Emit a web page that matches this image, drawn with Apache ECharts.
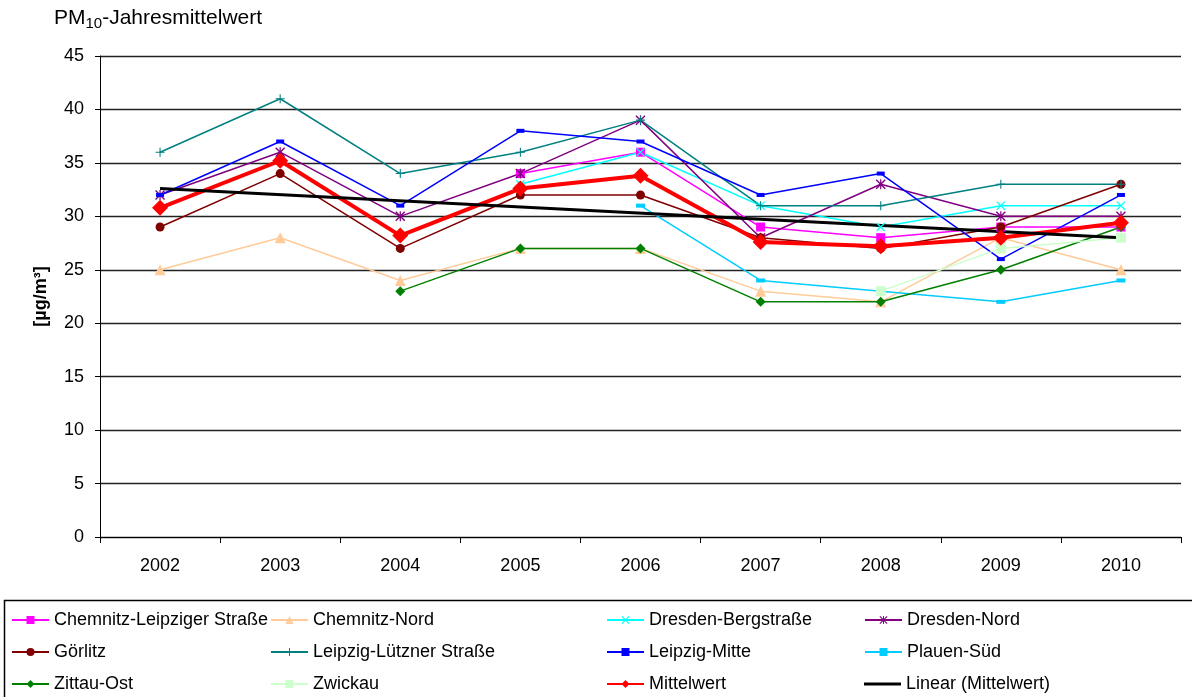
<!DOCTYPE html>
<html>
<head>
<meta charset="utf-8">
<script src="https://cdn.jsdelivr.net/npm/echarts@6/dist/echarts.min.js"></script>
<style>
  html, body { margin: 0; padding: 0; background: #fff; }
  #chart { width: 1192px; height: 697px; }
</style>
</head>
<body>
<div id="chart"></div>
<script>
// PM10 annual means (µg/m³) per station, 2002–2010
const years = ['2002', '2003', '2004', '2005', '2006', '2007', '2008', '2009', '2010'];
const chemnitzLeipziger = [null, null, null, 34, 36, 29, 28, 29, 29];
const chemnitzNord      = [25, 28, 24, 27, 27, 23, 22, 28, 25];
const dresdenBerg       = [null, null, null, 33, 36, 31, 29, 31, 31];
const dresdenNord       = [32, 36, 30, 34, 39, 28, 33, 30, 30];
const goerlitz          = [29, 34, 27, 32, 32, 28, 27, 29, 33];
const leipzigLuetzner   = [36, 41, 34, 36, 39, 31, 31, 33, 33];
const leipzigMitte      = [32, 37, 31, 38, 37, 32, 34, 26, 32];
const plauenSued        = [null, null, null, null, 31, 24, 23, 22, 24];
const zittauOst         = [null, null, 23, 27, 27, 22, 22, 25, 29];
const zwickau           = [null, null, null, null, null, null, 23, 27, 28];
const mittelwert        = [30.8, 35.2, 28.2, 32.6, 33.8, 27.6, 27.2, 28.0, 29.4];
// linear trend of the mean: values at first and last year
const trendYears  = ['2002', '2010'];
const trendValues = [32.6, 28.0];

// legend grid: rows of four entries
const legendRows = [
  ['Chemnitz-Leipziger Straße', 'Chemnitz-Nord', 'Dresden-Bergstraße', 'Dresden-Nord'],
  ['Görlitz', 'Leipzig-Lützner Straße', 'Leipzig-Mitte', 'Plauen-Süd'],
  ['Zittau-Ost', 'Zwickau', 'Mittelwert', 'Linear (Mittelwert)']
];

const FONT = '"Liberation Sans", Arial, sans-serif';

const SYM_X = 'path://M0,1 L1,0 L5,4 L9,0 L10,1 L6,5 L10,9 L9,10 L5,6 L1,10 L0,9 L4,5 Z';
const SYM_PLUS = 'path://M4.4,0 H5.6 V4.4 H10 V5.6 H5.6 V10 H4.4 V5.6 H0 V4.4 H4.4 Z';
const SYM_STAR = 'path://M0,1 L1,0 L5,4 L9,0 L10,1 L6,5 L10,9 L9,10 L5,6 L1,10 L0,9 L4,5 Z M4.4,0 H5.6 V10 H4.4 Z';

function station(name, data, color, symbol, size) {
  return {
    name: name,
    type: 'line',
    data: data,
    symbol: symbol,
    symbolSize: size,
    showSymbol: true,
    lineStyle: { color: color, width: 1.5 },
    itemStyle: { color: color, borderWidth: 0 },
    emphasis: { disabled: true }
  };
}

const series = [
  station('Chemnitz-Leipziger Straße', chemnitzLeipziger, '#FF00FF', 'rect', 9),
  station('Chemnitz-Nord', chemnitzNord, '#FFCC99', 'triangle', 11),
  station('Dresden-Bergstraße', dresdenBerg, '#00FFFF', SYM_X, 9),
  station('Dresden-Nord', dresdenNord, '#800080', SYM_STAR, 10),
  station('Görlitz', goerlitz, '#800000', 'circle', 9),
  station('Leipzig-Lützner Straße', leipzigLuetzner, '#008080', SYM_PLUS, 9),
  station('Leipzig-Mitte', leipzigMitte, '#0000FF', 'rect', [8, 4]),
  station('Plauen-Süd', plauenSued, '#00CCFF', 'rect', [9, 4]),
  station('Zittau-Ost', zittauOst, '#008000', 'diamond', 10),
  station('Zwickau', zwickau, '#CCFFCC', 'rect', 10),
  {
    name: 'Mittelwert',
    type: 'line',
    data: mittelwert,
    symbol: 'diamond',
    symbolSize: 16,
    lineStyle: { color: '#FF0000', width: 4 },
    itemStyle: { color: '#FF0000' },
    emphasis: { disabled: true }
  },
  {
    name: 'Linear (Mittelwert)',
    type: 'line',
    data: trendYears.map((y, i) => [y, trendValues[i]]),
    symbol: 'none',
    lineStyle: { color: '#000000', width: 3 },
    itemStyle: { color: '#000000' },
    emphasis: { disabled: true }
  }
];

// one legend component per entry so the four columns line up exactly
const colLeft = [11, 270, 606, 864];
const rowCenter = [620, 652, 684];
const legends = [];
legendRows.forEach((row, r) => {
  row.forEach((name, c) => {
    const isTrend = name === 'Linear (Mittelwert)';
    const ih = isTrend ? 3 : 10;
    legends.push({
      orient: 'horizontal',
      left: colLeft[c],
      top: rowCenter[r] - 11,
      padding: 0,
      itemWidth: 37,
      itemHeight: ih,
      selectedMode: false,
      textStyle: { fontFamily: FONT, fontSize: 18, color: '#000', lineHeight: 22 },
      data: isTrend ? [{ name: name, icon: 'rect' }] : [name]
    });
  });
});

const chart = echarts.init(document.getElementById('chart'), null, { renderer: 'canvas' });
chart.setOption({
  animation: false,
  backgroundColor: '#ffffff',
  textStyle: { fontFamily: FONT },
  grid: { left: 100, right: 11, top: 56, bottom: 160, containLabel: false },
  xAxis: {
    type: 'category',
    data: years,
    boundaryGap: true,
    axisLine: { lineStyle: { color: '#000', width: 1 } },
    axisTick: { show: true, length: 6, lineStyle: { color: '#000' } },
    axisLabel: { fontFamily: FONT, fontSize: 18, color: '#000', margin: 20 },
    splitLine: { show: false }
  },
  yAxis: {
    type: 'value',
    min: 0,
    max: 45,
    interval: 5,
    name: '[µg/m³]',
    nameLocation: 'middle',
    nameGap: 50,
    nameRotate: 90,
    nameTextStyle: { fontFamily: FONT, fontSize: 18, fontWeight: 'bold', color: '#000' },
    axisLine: { show: true, lineStyle: { color: '#000', width: 1 } },
    axisTick: { show: true, length: 5, lineStyle: { color: '#000' } },
    axisLabel: { fontFamily: FONT, fontSize: 18, color: '#000', margin: 16 },
    splitLine: { show: true, lineStyle: { color: '#222', width: 1.3 } }
  },
  legend: legends,
  graphic: [
    {
      type: 'text',
      left: 54,
      top: 8,
      style: {
        text: '{n|PM}{s|10}{n|-Jahresmittelwert}',
        rich: {
          n: { fontFamily: FONT, fontSize: 21, fill: '#000' },
          s: { fontFamily: FONT, fontSize: 15, fill: '#000', verticalAlign: 'bottom', padding: [10, 0, 0, 0] }
        }
      }
    },
    {
      type: 'rect',
      shape: { x: 4.5, y: 600.5, width: 1200, height: 200 },
      style: { fill: 'none', stroke: '#000', lineWidth: 1.5 },
      z: -1
    }
  ],
  series: series
});
</script>
</body>
</html>
